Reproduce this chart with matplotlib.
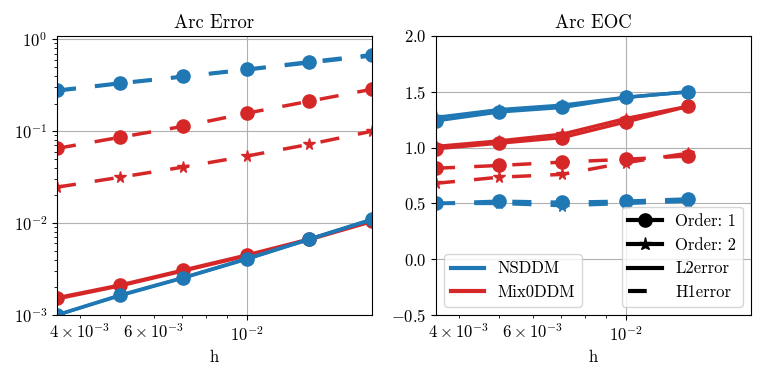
import numpy as np
import matplotlib
matplotlib.use("Agg")
import matplotlib.pyplot as plt
from matplotlib.lines import Line2D

plt.rcParams['font.family'] = 'serif'
plt.rcParams['font.serif'] = ['cmr10']
plt.rcParams['mathtext.fontset'] = 'cm'
plt.rcParams['axes.formatter.use_mathtext'] = True
plt.rcParams['axes.unicode_minus'] = True

# mesh sizes
h = [0.00353, 0.005, 0.00706, 0.01, 0.0141, 0.0199]

# errors (order 1 / order 2, L2 / H1)
ns_l2_o1 = [1.0e-3, 1.65e-3, 2.55e-3, 4.1e-3, 6.7e-3, 1.1e-2]
ns_l2_o2 = [1.0e-3, 1.63e-3, 2.53e-3, 4.05e-3, 6.65e-3, 1.09e-2]
ns_h1_o1 = [0.279, 0.335, 0.396, 0.472, 0.57, 0.68]
ns_h1_o2 = [0.274, 0.33, 0.39, 0.465, 0.555, 0.66]
mix_l2_o1 = [1.54e-3, 2.12e-3, 3.08e-3, 4.49e-3, 6.7e-3, 1.06e-2]
mix_l2_o2 = [1.5e-3, 2.08e-3, 3.02e-3, 4.4e-3, 6.6e-3, 1.04e-2]
mix_h1_o1 = [0.065, 0.086, 0.113, 0.157, 0.212, 0.286]
mix_h1_o2 = [0.0246, 0.0316, 0.0407, 0.0536, 0.072, 0.1]

# EOC (5 values, plotted at h[:-1])
ns_l2_eoc_o1 = [1.24, 1.32, 1.36, 1.45, 1.50]
ns_l2_eoc_o2 = [1.27, 1.34, 1.38, 1.45, 1.50]
ns_h1_eoc_o1 = [0.50, 0.52, 0.51, 0.52, 0.54]
ns_h1_eoc_o2 = [0.50, 0.50, 0.48, 0.50, 0.52]
mix_l2_eoc_o1 = [0.99, 1.04, 1.09, 1.23, 1.37]
mix_l2_eoc_o2 = [1.01, 1.06, 1.12, 1.26, 1.37]
mix_h1_eoc_o1 = [0.815, 0.84, 0.87, 0.895, 0.925]
mix_h1_eoc_o2 = [0.68, 0.735, 0.76, 0.865, 0.95]

blue = '#1f77b4'
red = '#d62728'
lw = 2.5
ms = 9.5
ms_star = 8.5
dash = (5.5, 5.5)

fig, (ax1, ax2) = plt.subplots(1, 2, figsize=(7.64, 3.75), dpi=100)
fig.subplots_adjust(left=0.0746, right=0.983, bottom=0.16, top=0.904, wspace=0.203)

errs = [
    (red, mix_l2_o1, mix_l2_o2, mix_h1_o1, mix_h1_o2),
    (blue, ns_l2_o1, ns_l2_o2, ns_h1_o1, ns_h1_o2),
]
for c, l2a, l2b, h1a, h1b in errs:
    ax1.loglog(h, l2a, '-', marker='o', color=c, lw=lw, ms=ms)
    ax1.loglog(h, l2b, '-', marker='*', color=c, lw=lw, ms=ms_star)
    ax1.loglog(h, h1a, '--', dashes=dash, marker='o', color=c, lw=lw, ms=ms)
    ax1.loglog(h, h1b, '--', dashes=dash, marker='*', color=c, lw=lw, ms=ms_star)
ax1.set_xlim(h[0], h[-1])
ax1.set_ylim(1e-3, 1.086)
ax1.set_title('Arc Error', fontsize=13.5)
ax1.set_xlabel('h', fontsize=12)
ax1.grid(True)

eocs = [
    (red, mix_l2_eoc_o1, mix_l2_eoc_o2, mix_h1_eoc_o1, mix_h1_eoc_o2),
    (blue, ns_l2_eoc_o1, ns_l2_eoc_o2, ns_h1_eoc_o1, ns_h1_eoc_o2),
]
hh = h[:-1]
for c, l2a, l2b, h1a, h1b in eocs:
    ax2.semilogx(hh, l2a, '-', marker='o', color=c, lw=lw, ms=ms)
    ax2.semilogx(hh, l2b, '-', marker='*', color=c, lw=lw, ms=ms_star)
    ax2.semilogx(hh, h1a, '--', dashes=dash, marker='o', color=c, lw=lw, ms=ms)
    ax2.semilogx(hh, h1b, '--', dashes=dash, marker='*', color=c, lw=lw, ms=ms_star)
ax2.set_xlim(h[0], h[-1])
ax2.set_ylim(-0.5, 2.0)
ax2.set_title('Arc EOC', fontsize=13.5)
ax2.set_xlabel('h', fontsize=12)
ax2.grid(True)

for ax in (ax1, ax2):
    ax.tick_params(which='both', labelsize=12)

leg1 = ax2.legend(handles=[Line2D([], [], color=blue, lw=3),
                           Line2D([], [], color=red, lw=3)],
                  labels=['NSDDM', 'Mix0DDM'], loc='lower left', fontsize=12)
ax2.add_artist(leg1)
ax2.legend(handles=[Line2D([], [], color='k', marker='o', lw=3, ms=ms),
                    Line2D([], [], color='k', marker='*', lw=3, ms=ms),
                    Line2D([], [], color='k', ls='-', lw=3),
                    Line2D([], [], color='k', ls='--', dashes=(4.5, 8), lw=3)],
           labels=['Order: 1', 'Order: 2', 'L2error', 'H1error'],
           loc='lower right', fontsize=12)

fig.savefig('out.png', dpi=100)
